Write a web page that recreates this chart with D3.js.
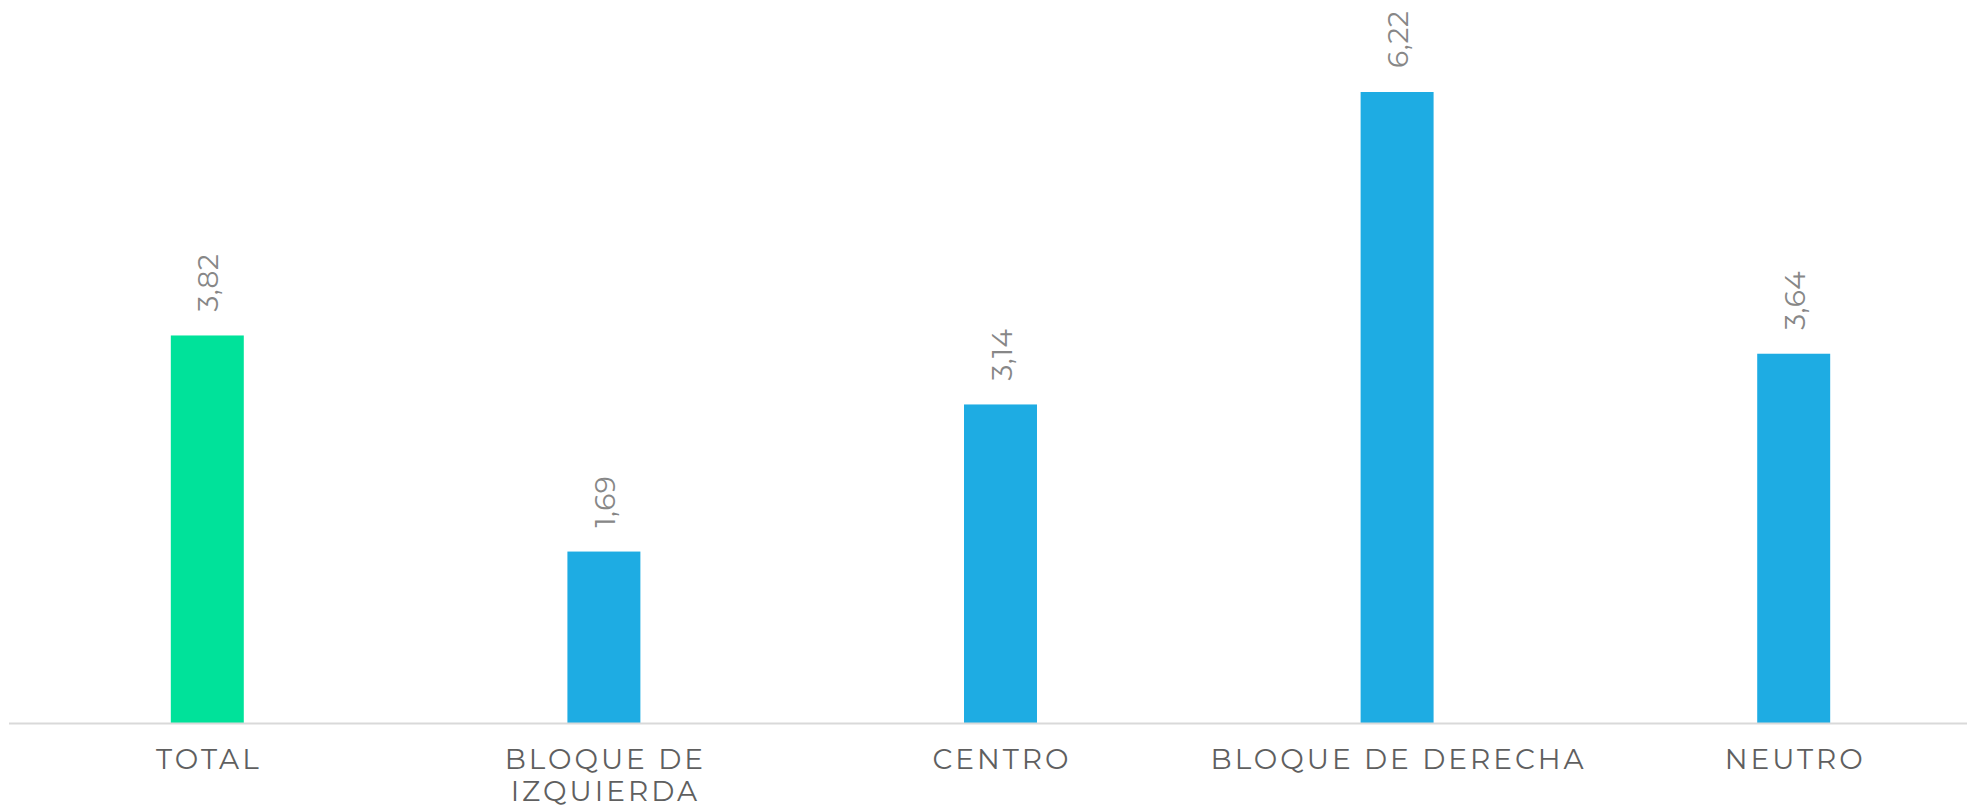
<!DOCTYPE html>
<html>
<head>
<meta charset="utf-8">
<script src="https://cdn.jsdelivr.net/npm/d3@7"></script>
<style>
  html, body { margin: 0; padding: 0; background: #ffffff; }
  svg { display: block; }
</style>
</head>
<body>
<svg id="chart" width="1967" height="807"></svg>
<script>
const categories = ["TOTAL", "BLOQUE DE IZQUIERDA", "CENTRO", "BLOQUE DE DERECHA", "NEUTRO"];
const categoryLines = [["TOTAL"], ["BLOQUE DE", "IZQUIERDA"], ["CENTRO"], ["BLOQUE DE DERECHA"], ["NEUTRO"]];
const values = [3.82, 1.69, 3.14, 6.22, 3.64];
const valueLabels = ["3,82", "1,69", "3,14", "6,22", "3,64"];
const barColors = ["#00E29A", "#1EACE3", "#1EACE3", "#1EACE3", "#1EACE3"];

const W = 1967, H = 807;
const svg = d3.select("#chart");

const x = d3.scaleBand()
  .domain(categories)
  .range([9, 1992])
  .paddingInner(0.816)
  .paddingOuter(0.408);

const baseY = 723;
const y = d3.scaleLinear().domain([0, 6.22]).range([baseY, 92]);

const data = categories.map((c, i) => ({ c, v: values[i], label: valueLabels[i], color: barColors[i], lines: categoryLines[i] }));

// bars
svg.append("g").selectAll("rect").data(data).join("rect")
  .attr("x", d => x(d.c))
  .attr("width", x.bandwidth())
  .attr("y", d => y(d.v))
  .attr("height", d => y(0) - y(d.v))
  .attr("fill", d => d.color);

// baseline axis
const axis = d3.axisBottom(x).tickSize(0).tickFormat("");
const axisG = svg.append("g").attr("transform", `translate(0,${baseY + 0.5})`).call(axis);
axisG.select(".domain").attr("stroke", "#d9d9d9").attr("stroke-width", 2).attr("d", `M9,0H${W}`);

// value labels (rotated)
svg.append("g").selectAll("text").data(data).join("text")
  .attr("transform", d => `translate(${x(d.c) + x.bandwidth() / 2 + 1},${y(d.v) - 24}) rotate(-90)`)
  .attr("dy", "0.36em")
  .attr("text-anchor", "start")
  .attr("font-family", "Montserrat, 'Open Sans', sans-serif")
  .attr("font-weight", 400)
  .attr("font-size", 28)
  .attr("letter-spacing", 0.5)
  .attr("fill", "#878787")
  .text(d => d.label);

// category labels
const cat = svg.append("g").selectAll("text").data(data).join("text")
  .attr("x", d => x(d.c) + x.bandwidth() / 2)
  .attr("y", 769)
  .attr("text-anchor", "middle")
  .attr("font-family", "Montserrat, 'Open Sans', sans-serif")
  .attr("font-weight", 400)
  .attr("font-size", 28)
  .attr("letter-spacing", 3)
  .attr("fill", "#5f5f5f");
cat.each(function(d) {
  const t = d3.select(this);
  d.lines.forEach((ln, i) => {
    t.append("tspan")
      .attr("x", x(d.c) + x.bandwidth() / 2 + 1.5)
      .attr("dy", i === 0 ? 0 : 32)
      .text(ln);
  });
});
</script>
</body>
</html>
